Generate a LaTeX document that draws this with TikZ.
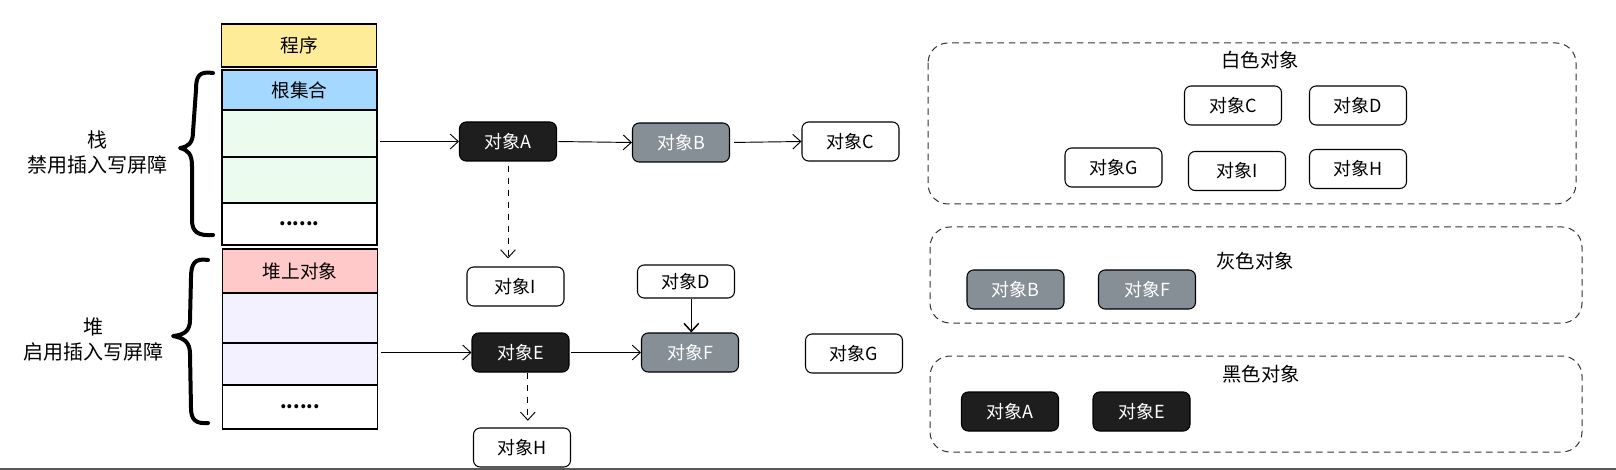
\documentclass[tikz,border=0pt]{standalone}
\usepackage{fontspec}
\setmainfont{Noto Sans CJK SC}
\usetikzlibrary{arrows.meta}
\definecolor{progY}{HTML}{FFEC99}
\definecolor{rootB}{HTML}{A5D8FF}
\definecolor{stkG}{HTML}{EBFBEE}
\definecolor{heapR}{HTML}{FFC9C9}
\definecolor{heapL}{HTML}{F3F0FF}
\definecolor{objK}{HTML}{1E1E1E}
\definecolor{objG}{HTML}{868E96}
\begin{document}
\begin{tikzpicture}[x=0.75pt,y=-0.75pt,
  obj/.style={draw=black, line width=0.8pt, rounded corners=5pt, minimum width=72.75pt, minimum height=29.25pt, inner sep=0pt, font=\fontsize{13.5}{15}\selectfont},
  blk/.style={obj, fill=objK, text=white},
  gry/.style={obj, fill=objG, text=white},
  wht/.style={obj, fill=white},
  stk/.style={draw=black, line width=1.1pt, minimum width=116.25pt, inner sep=0pt, font=\fontsize{14}{16}\selectfont},
  panel/.style={draw=black!80, dashed, dash pattern=on 5pt off 3.5pt, line width=0.75pt, rounded corners=15pt},
  ttl/.style={font=\fontsize{14.5}{16}\selectfont, inner sep=0pt},
  lbl/.style={font=\fontsize{15}{19}\selectfont, align=center, inner sep=0pt},
  arr/.style={-{Straight Barb[length=6pt,width=11pt]}, line width=0.7pt},
  darr/.style={arr, dashed, dash pattern=on 5pt off 4pt},
  bracestyle/.style={line width=3pt, line cap=round, line join=round}
]
\useasboundingbox (0,0) rectangle (1616,470);

% stack column
\node[stk, fill=progY, minimum height=32.25pt] (prog) at (299,45.5) {程序};
\node[stk, fill=rootB, minimum height=30pt] (root) at (299.5,90) {根集合};
\node[stk, fill=stkG, minimum height=35.25pt] (g1) at (299.5,133.5) {};
\node[stk, fill=stkG, minimum height=34.5pt] (g2) at (299.5,180) {};
\node[stk, fill=white, minimum height=31.5pt] (dots1) at (299.5,224) {\bfseries ......};
\node[stk, fill=heapR, minimum height=33pt] (hobj) at (300,271) {堆上对象};
\node[stk, fill=heapL, minimum height=37.5pt] (l1) at (300,318) {};
\node[stk, fill=heapL, minimum height=31.5pt] (l2) at (300,364) {};
\node[stk, fill=white, minimum height=33pt] (dots2) at (300,407) {\bfseries ......};

% braces
\draw[bracestyle] (213,73) .. controls (199,71) and (196,76) .. (196,90) -- (193,132)
  .. controls (193,143) and (188,147) .. (180,148)
  .. controls (188,150) and (192,154) .. (192,166) -- (192,220)
  .. controls (192,232) and (198,236) .. (213,235);
\draw[bracestyle] (208,260) .. controls (195,258) and (191,263) .. (191,278) -- (190,320)
  .. controls (190,331) and (184,335) .. (173,336)
  .. controls (184,338) and (190,342) .. (190,354) -- (191,408)
  .. controls (191,420) and (196,424) .. (208,423);

\node[lbl] (stackLbl) at (97,152.5) {栈\\禁用插入写屏障};
\node[lbl] (heapLbl) at (93,339.5) {堆\\启用插入写屏障};

% object graph
\node[blk] (A) at (508,141.5) {对象A};
\node[gry] (B) at (681,142.5) {对象B};
\node[wht] (C) at (850.5,141.5) {对象C};
\node[wht] (I) at (515.5,286.5) {对象I};
\node[wht, minimum height=24.75pt] (D) at (686,281.5) {对象D};
\node[blk] (E) at (520.5,352.5) {对象E};
\node[gry] (F) at (690,352.5) {对象F};
\node[wht] (G) at (854,353.5) {对象G};
\node[wht] (H) at (522,447.5) {对象H};

\draw[arr, shorten <=2pt] (g1.east |- A.west) -- (A.west);
\draw[arr, shorten <=2pt] (l2.east |- E.west) -- (E.west);
\draw[arr, shorten <=1pt] (A.east) -- (B.west);
\draw[arr, shorten <=3pt] (B.east) -- (C.west);
\draw[arr, shorten <=1pt] (E.east) -- (F.west);
\draw[darr, shorten <=3pt, shorten >=6pt] (A.south) -- (A.south |- I.north);
\draw[darr, shorten >=5pt] ([xshift=5.5pt]E.south) -- ([xshift=5.5pt]E.south |- H.north);
\draw[arr, line width=1.1pt] ([xshift=4pt]D.south) -- ([xshift=4pt]D.south |- F.north);

% right panels
\draw[panel] (928,43) rectangle (1576,204);
\node[ttl] (wT) at (1260,60) {白色对象};
\node[wht] (wC) at (1233,105.5) {对象C};
\node[wht] (wD) at (1358,105.5) {对象D};
\node[wht] (wG) at (1113.5,167.5) {对象G};
\node[wht] (wI) at (1237,171) {对象I};
\node[wht] (wH) at (1358,169) {对象H};

\draw[panel] (930,227) rectangle (1582,323);
\node[ttl] (gT) at (1255,261) {灰色对象};
\node[gry] (gB) at (1015.5,289.5) {对象B};
\node[gry] (gF) at (1147,289.5) {对象F};

\draw[panel] (930,356) rectangle (1582,452);
\node[ttl] (bT) at (1261,374) {黑色对象};
\node[blk] (bA) at (1010,411.5) {对象A};
\node[blk] (bE) at (1141.5,411.5) {对象E};

% bottom edge line
\draw[line width=1.5pt, black!65] (0,469) -- (1616,469);
\end{tikzpicture}
\end{document}
